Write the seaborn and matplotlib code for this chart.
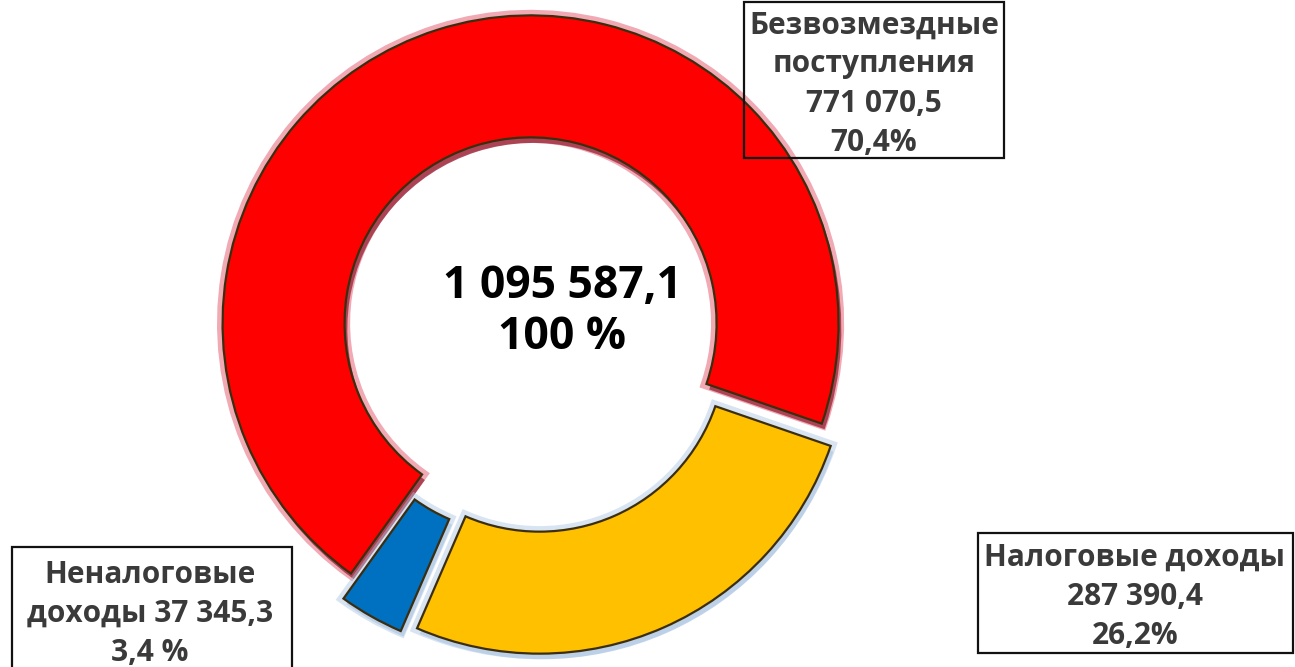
import matplotlib
matplotlib.use('Agg')
import matplotlib.pyplot as plt
import matplotlib.patheffects as pe
from matplotlib.patches import Rectangle
import seaborn as sns

# data
names = ['Безвозмездные\nпоступления', 'Неналоговые\nдоходы', 'Налоговые доходы']
values = [771070.5, 37345.3, 287390.4]
shares = ['70,4%', '3,4 %', '26,2%']
total = 1095587.1
colors = ['#FF0000', '#0070C0', '#FFC000']

sns.set_theme(style='white')
plt.rcParams['font.family'] = ['Open Sans', 'DejaVu Sans']


def fmt(v):
    return f'{v:,.1f}'.replace(',', ' ').replace('.', ',')


fig = plt.figure(figsize=(12.95, 6.67), dpi=100)
ax = fig.add_axes([0, 0, 1, 1])

# pie in pixel-like units so the layout matches the picture
W, H = 1295, 667
cx, cy, R = 533, H - 331, 308
wedges, _ = ax.pie(values, colors=colors, startangle=-19, counterclock=True,
                   center=(cx, cy), radius=R, explode=[8, 20, 16],
                   wedgeprops=dict(width=122, edgecolor='#3b2e10', linewidth=1.6))
glow = ['#e0405a', '#a9c4e2', '#a9c4e2']
shade = ['#9b2a3e', '#b5cce6', '#b5cce6']
for w, g, s in zip(wedges, glow, shade):
    w.set_path_effects([pe.Stroke(linewidth=8, foreground=g, alpha=0.45),
                        pe.SimplePatchShadow(offset=(2, -4), shadow_rgbFace=s, alpha=0.8),
                        pe.Normal()])
ax.set_xlim(0, W)
ax.set_ylim(0, H)
ax.set_aspect('equal')
ax.axis('off')

txt = dict(fontweight='bold', color='#000000', ha='center', va='center')
ax.text(562, H - 312, fmt(total) + '\n100 %', fontsize=32, linespacing=1.15, **txt)

lab = dict(fontweight='bold', color='#3a3a3a', ha='center', va='center',
           fontsize=21.5, linespacing=1.4)
# Безвозмездные поступления (top right)
ax.add_patch(Rectangle((744, H - 158), 260, 156, fill=False, ec='#111', lw=1.6))
ax.text(874, H - 84, names[0] + '\n' + fmt(values[0]) + '\n' + shares[0], **lab)
# Неналоговые доходы (bottom left)
ax.add_patch(Rectangle((12, -5), 280, H - 547 + 5, fill=False, ec='#111', lw=1.6))
ax.text(150, H - 614, 'Неналоговые\nдоходы ' + fmt(values[1]) + '\n' + shares[1], **lab)
# Налоговые доходы (bottom right)
ax.add_patch(Rectangle((978, H - 653), 315, 120, fill=False, ec='#111', lw=1.6))
ax.text(1135, H - 597, names[2] + '\n' + fmt(values[2]) + '\n' + shares[2], **lab)

fig.savefig('out.png', dpi=100)
